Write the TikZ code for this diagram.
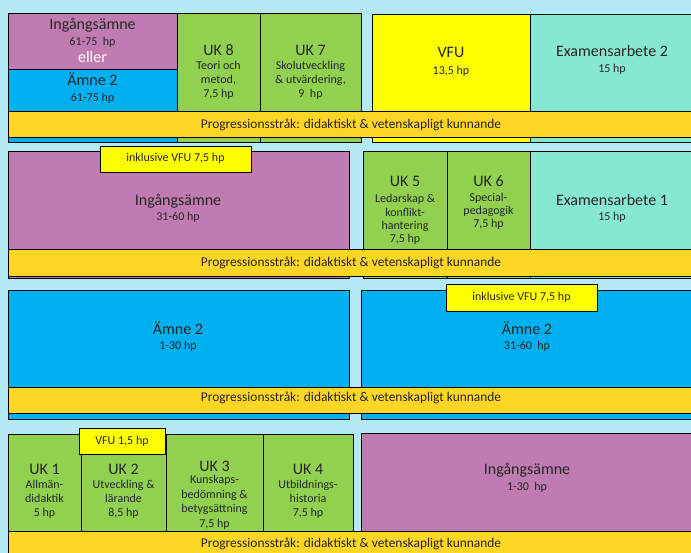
\documentclass[tikz,border=0pt]{standalone}
\usepackage{fontspec}
\setmainfont{Carlito}
\definecolor{skyback}{RGB}{179,234,246}
\definecolor{ingpurple}{RGB}{192,124,178}
\definecolor{amneblue}{RGB}{0,176,240}
\definecolor{ukgreen}{RGB}{146,208,80}
\definecolor{vfuyellow}{RGB}{255,255,0}
\definecolor{bandgold}{RGB}{255,213,38}
\definecolor{exammint}{RGB}{134,232,208}
\tikzset{
    every node/.style={align=center,},
    block/.style={draw,rectangle,line width=1pt,inner sep=0pt,outer sep=0pt,anchor=north west,},
    band/.style={block,fill=bandgold,},
    title/.style={anchor=base,inner sep=0pt,text=black!85,font=\fontsize{16}{19}\selectfont,},
    detail/.style={anchor=base,inner sep=0pt,text=black!85,font=\fontsize{12}{14}\selectfont,},
    bandtext/.style={anchor=base,inner sep=0pt,text=black!85,font=\fontsize{13.4}{15}\selectfont,},
}

\begin{document}
\begin{tikzpicture}[x=1pt,y=-1pt]
                \useasboundingbox[fill=skyback] (0,0) rectangle (691,553);
                \clip (0,0) rectangle (691,553);

                % year 4
                \node[block,fill=ingpurple,minimum width=169,minimum height=56] (ingang_a) at (8,14) {};
                \node[block,fill=amneblue,minimum width=169,minimum height=73] (amne_a) at (8,70) {};
                \node[block,fill=ukgreen,minimum width=83,minimum height=129] (uk8) at (177,14) {};
                \node[block,fill=ukgreen,minimum width=101,minimum height=129] (uk7) at (260,14) {};
                \node[block,fill=vfuyellow,minimum width=158,minimum height=128] (vfu_a) at (372,15) {};
                \node[block,fill=exammint,minimum width=170,minimum height=128] (exam2) at (530,15) {};
                \node[band,minimum width=692,minimum height=26] (band_a) at (8,112) {};

                \node[title] (ingang_a_title) at (92.5,30) {Ingångsämne};
                \node[detail] (ingang_a_hp) at (92.5,46) {61-75\ \ hp};
                \node[title,text=white] (eller) at (92.5,63) {eller};
                \node[title] (amne_a_title) at (92.5,86) {Ämne 2};
                \node[detail] (amne_a_hp) at (92.5,102) {61-75 hp};
                \node[title] (uk8_title) at (218.5,56) {UK 8};
                \node[detail] (uk8_text) at (218.5,98) {Teori och\\metod,\\7,5 hp};
                \node[title] (uk7_title) at (310.5,56) {UK 7};
                \node[detail] (uk7_text) at (310.5,98) {Skolutveckling\\\& utvärdering,\\9\ \ hp};
                \node[title] (vfu_a_title) at (451,58) {VFU};
                \node[detail] (vfu_a_hp) at (451,75) {13,5 hp};
                \node[title] (exam2_title) at (612,57) {Examensarbete 2};
                \node[detail] (exam2_hp) at (612,73) {15 hp};
                \node[bandtext] (band_a_text) at (351,128.5) {Progressionsstråk: didaktiskt \& vetenskapligt kunnande};

                % year 3
                \node[block,fill=ingpurple,minimum width=341,minimum height=127] (ingang_b) at (8,152) {};
                \node[block,fill=ukgreen,minimum width=84,minimum height=127] (uk5) at (363,152) {};
                \node[block,fill=ukgreen,minimum width=83,minimum height=127] (uk6) at (447,152) {};
                \node[block,fill=exammint,minimum width=170,minimum height=127] (exam1) at (530,152) {};
                \node[band,minimum width=692,minimum height=27] (band_b) at (8,250) {};
                \node[block,fill=vfuyellow,minimum width=151,minimum height=26] (incl_b) at (100,147) {};

                \node[detail] (incl_b_text) at (175.5,162) {inklusive VFU 7,5 hp};
                \node[title] (ingang_b_title) at (178,206) {Ingångsämne};
                \node[detail] (ingang_b_hp) at (178,221) {31-60 hp};
                \node[title] (uk5_title) at (405,187) {UK 5};
                \node[detail,font=\fontsize{12}{13.4}\selectfont] (uk5_text) at (405,243) {Ledarskap \&\\konflikt-\\hantering\\7,5 hp};
                \node[title] (uk6_title) at (488.5,187) {UK 6};
                \node[detail,font=\fontsize{12}{13.2}\selectfont] (uk6_text) at (488.5,228) {Special-\\pedagogik\\7,5 hp};
                \node[title] (exam1_title) at (612,206) {Examensarbete 1};
                \node[detail] (exam1_hp) at (612,221) {15 hp};
                \node[bandtext] (band_b_text) at (351,267) {Progressionsstråk: didaktiskt \& vetenskapligt kunnande};

                % year 2
                \node[block,fill=amneblue,minimum width=341,minimum height=128] (amne_c) at (8,291) {};
                \node[block,fill=amneblue,minimum width=339,minimum height=128] (amne_d) at (361,291) {};
                \node[band,minimum width=692,minimum height=26] (band_c) at (8,387) {};
                \node[block,fill=vfuyellow,minimum width=151,minimum height=27] (incl_d) at (446,285) {};

                \node[detail] (incl_d_text) at (521.5,301) {inklusive VFU 7,5 hp};
                \node[title] (amne_c_title) at (178,335) {Ämne 2};
                \node[detail] (amne_c_hp) at (178,350) {1-30 hp};
                \node[title] (amne_d_title) at (527,335) {Ämne 2};
                \node[detail] (amne_d_hp) at (527,350) {31-60\ \ hp};
                \node[bandtext] (band_c_text) at (351,402) {Progressionsstråk: didaktiskt \& vetenskapligt kunnande};

                % year 1
                \node[block,fill=ukgreen,minimum width=73,minimum height=130] (uk1) at (8,434) {};
                \node[block,fill=ukgreen,minimum width=85,minimum height=130] (uk2) at (81,434) {};
                \node[block,fill=ukgreen,minimum width=97,minimum height=130] (uk3) at (166,434) {};
                \node[block,fill=ukgreen,minimum width=90,minimum height=130] (uk4) at (263,434) {};
                \node[block,fill=ingpurple,minimum width=339,minimum height=131] (ingang_d) at (361,433) {};
                \node[band,minimum width=692,minimum height=30] (band_d) at (8,531) {};
                \node[block,fill=vfuyellow,minimum width=86,minimum height=26] (vfu_d) at (79,428) {};

                \node[detail] (vfu_d_text) at (122,444) {VFU 1,5 hp};
                \node[title] (uk1_title) at (44.5,474) {UK 1};
                \node[detail] (uk1_text) at (44.5,516) {Allmän-\\didaktik\\5 hp};
                \node[title] (uk2_title) at (123.5,474) {UK 2};
                \node[detail] (uk2_text) at (123.5,516) {Utveckling \&\\lärande\\8,5 hp};
                \node[title] (uk3_title) at (214.5,471) {UK 3};
                \node[detail,font=\fontsize{12}{14.5}\selectfont] (uk3_text) at (214.5,527) {Kunskaps-\\bedömning \&\\betygsättning\\7,5 hp};
                \node[title] (uk4_title) at (308,474) {UK 4};
                \node[detail] (uk4_text) at (308,516) {Utbildnings-\\historia\\7,5 hp};
                \node[title] (ingang_d_title) at (527,474) {Ingångsämne};
                \node[detail] (ingang_d_hp) at (527,490) {1-30\ \ hp};
                \node[bandtext] (band_d_text) at (351,547) {Progressionsstråk: didaktiskt \& vetenskapligt kunnande};
            \end{tikzpicture}
\end{document}
